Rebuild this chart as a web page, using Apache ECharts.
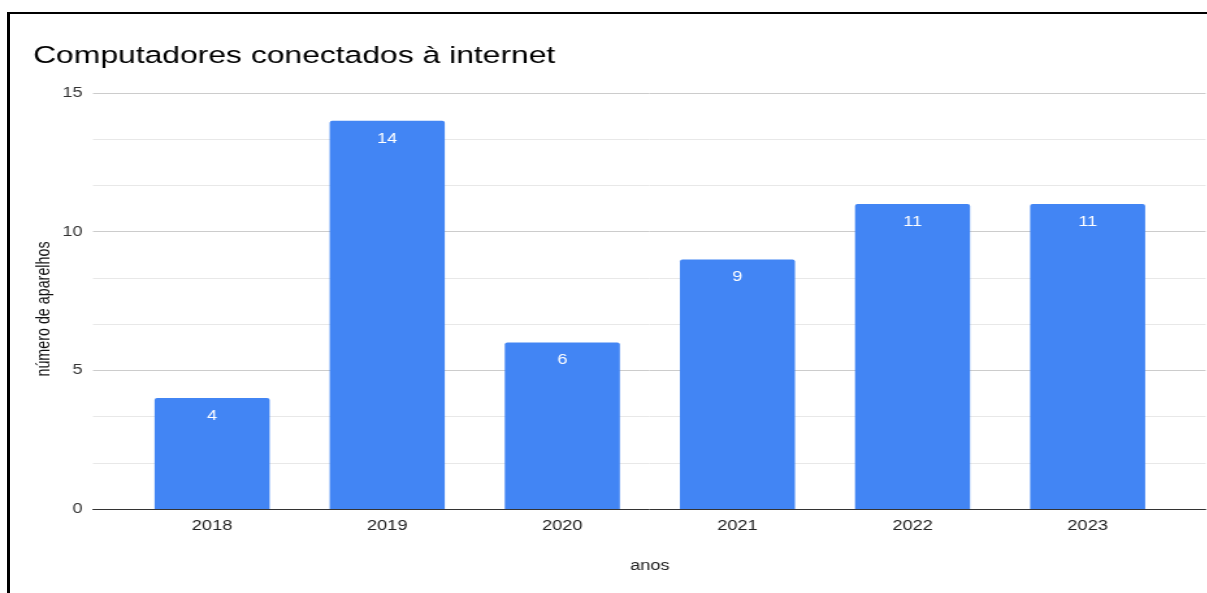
<!DOCTYPE html>
<html>
<head>
<meta charset="utf-8">
<script src="https://cdn.jsdelivr.net/npm/echarts@6/dist/echarts.min.js"></script>
<style>
  html, body { margin: 0; padding: 0; background: #fff; overflow: hidden; }
  #wrap { position: absolute; left: 0; top: 0; width: 1207px; height: 593px; overflow: hidden; }
  /* chart is laid out in a narrower box and widened horizontally */
  #chart { position: absolute; left: 0; top: 0; width: 928.5px; height: 593px;
           transform: scaleX(1.3); transform-origin: 0 0; }
  #frame { position: absolute; left: 7px; top: 12px; width: 1400px; height: 700px;
           border-top: 2px solid #000; border-left: 3px solid #000; box-sizing: border-box;
           pointer-events: none; }
</style>
</head>
<body>
<div id="wrap">
  <div id="chart"></div>
  <div id="frame"></div>
</div>
<script>
const titleText = 'Computadores conectados à internet';
const categories = ['2018', '2019', '2020', '2021', '2022', '2023'];
const values = [4, 14, 6, 9, 11, 11];
const yTicks = [0, 5, 10, 15];
const xName = 'anos';
const yName = 'número de aparelhos';

const font = 'Liberation Sans, Arial, sans-serif';
const yMin = yTicks[0];
const yMax = yTicks[yTicks.length - 1];
const yStep = yTicks[1] - yTicks[0];

const chart = echarts.init(document.getElementById('chart'));
chart.setOption({
  animation: false,
  backgroundColor: '#fff',
  title: {
    text: titleText,
    left: 25.4,
    top: 44,
    padding: 0,
    textStyle: { fontFamily: font, fontSize: 24.5, fontWeight: 'normal', color: '#000' }
  },
  grid: [
    // full-width frame that carries the value scale and gridlines
    { left: 71.5, right: 1.6, top: 93, bottom: 84, containLabel: false },
    // inner band that holds the bars
    { left: 95.8, right: 25, top: 93, bottom: 84, containLabel: false }
  ],
  xAxis: [
    {
      type: 'value', gridIndex: 0, min: 0, max: 1,
      axisLine: { show: true, onZero: false, lineStyle: { color: '#333', width: 1 } },
      axisTick: { show: false }, axisLabel: { show: false }, splitLine: { show: false }
    },
    {
      type: 'category', gridIndex: 1, data: categories,
      name: xName, nameLocation: 'middle', nameGap: 50,
      nameTextStyle: { fontFamily: font, fontSize: 14, color: '#222' },
      axisLine: { show: false }, axisTick: { show: false },
      axisLabel: { fontFamily: font, fontSize: 14, color: '#222', margin: 10 }
    }
  ],
  yAxis: [
    {
      type: 'value', gridIndex: 0, min: yMin, max: yMax, interval: yStep,
      name: yName, nameLocation: 'middle', nameRotate: 90, nameGap: 30,
      nameMoveOverlap: false,
      nameTextStyle: { fontFamily: font, fontSize: 14.3, color: '#111', padding: [0, 16, 0, 0] },
      axisLine: { show: false }, axisTick: { show: false },
      axisLabel: { fontFamily: font, fontSize: 14, color: '#333', margin: 8 },
      splitLine: { show: true, lineStyle: { color: '#cccccc', width: 1 } },
      minorTick: { show: false, splitNumber: 3 },
      minorSplitLine: { show: true, lineStyle: { color: '#e8e8e8', width: 1 } }
    },
    {
      type: 'value', gridIndex: 1, min: yMin, max: yMax, interval: yStep, show: false
    }
  ],
  series: [{
    type: 'bar',
    xAxisIndex: 1, yAxisIndex: 1,
    data: values,
    barWidth: 88.5,
    itemStyle: { color: '#4285F4', borderRadius: [2, 2, 0, 0] },
    label: {
      show: true, position: 'insideTop', distance: 11,
      fontFamily: font, fontSize: 14, color: '#fff'
    }
  }]
});
</script>
</body>
</html>
